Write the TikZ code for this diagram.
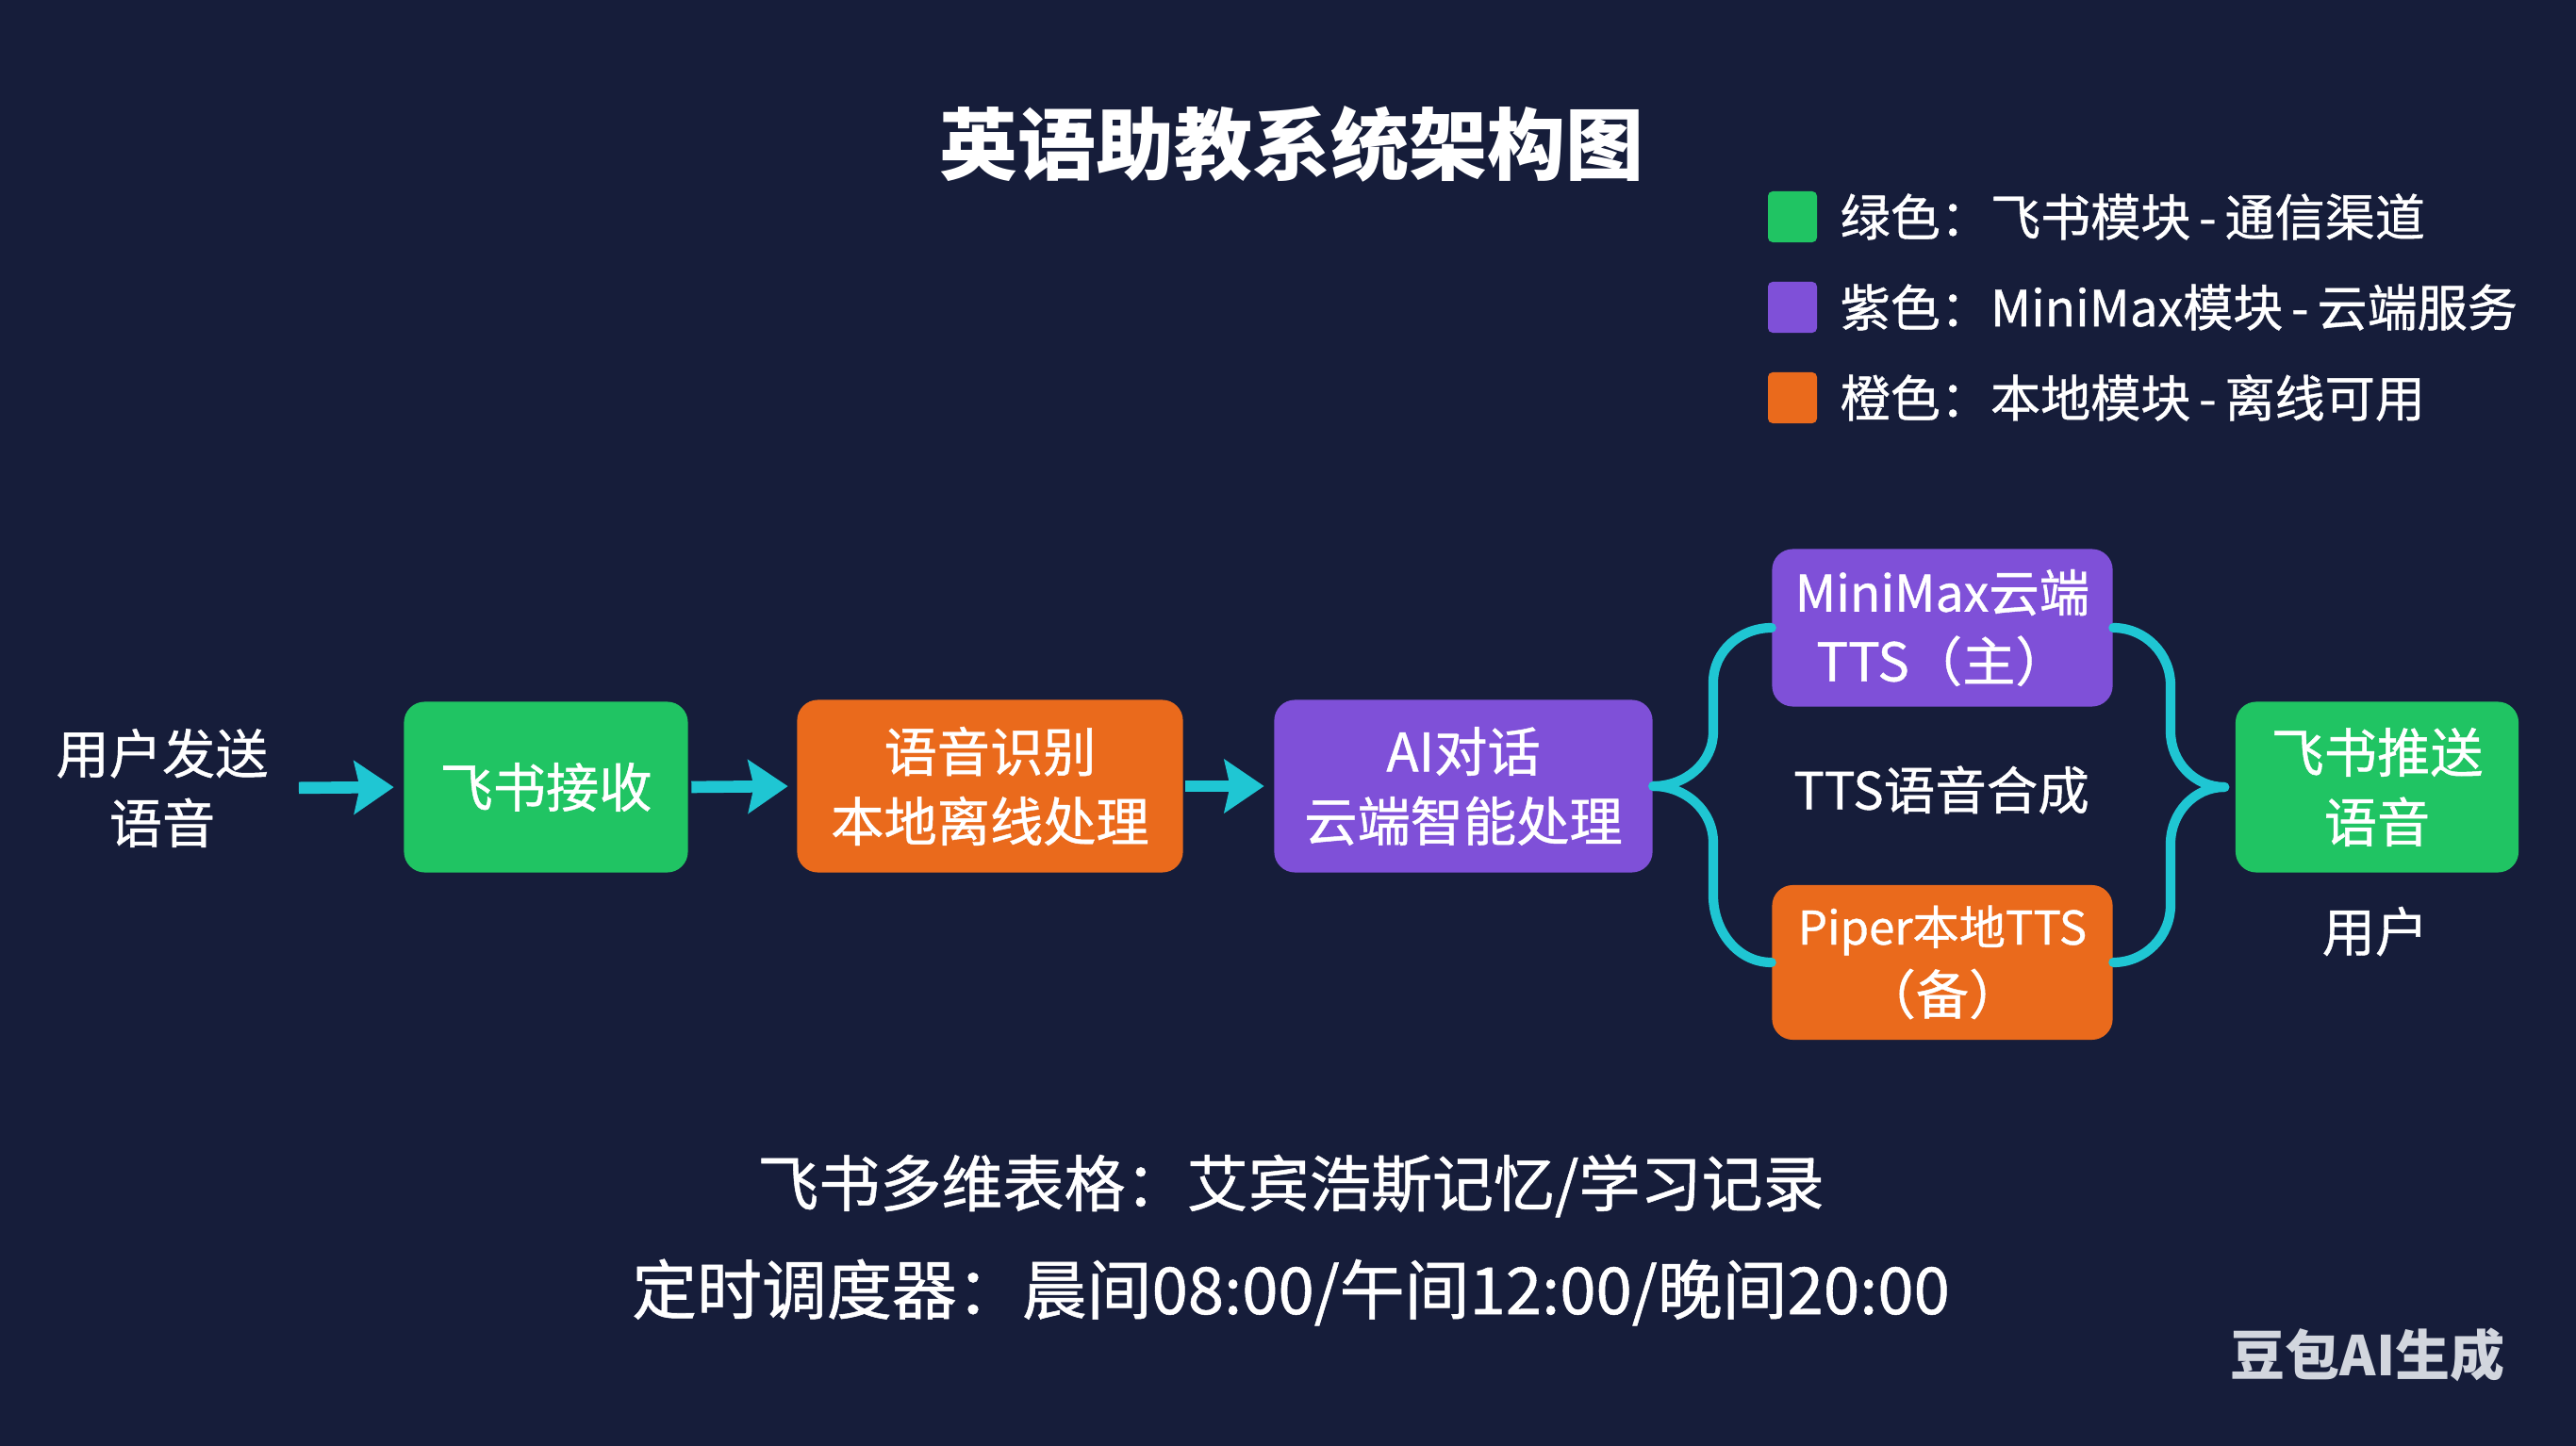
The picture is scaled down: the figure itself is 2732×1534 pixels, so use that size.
\documentclass[tikz,border=0pt]{standalone}
\usepackage{fontspec}
\setmainfont{Noto Sans CJK SC}
\newfontfamily\medfont{Noto Sans CJK SC}[FakeBold=0.8]
\usetikzlibrary{arrows.meta}
\definecolor{bg}{HTML}{161D3A}
\definecolor{fsgreen}{HTML}{20C463}
\definecolor{mmpurple}{HTML}{7F50D8}
\definecolor{locorange}{HTML}{EA6A1C}
\definecolor{flowcyan}{HTML}{1FC6D3}
\definecolor{wm}{HTML}{D2D6DE}
\begin{document}
\begin{tikzpicture}[x=0.01cm,y=-0.01cm,
 box/.style={rounded corners=0.22cm, text=white, align=center, inner sep=0pt, font=\medfont\fontsize{16}{21}\selectfont},
 plaintext/.style={text=white, align=center, font=\medfont\fontsize{16}{21}\selectfont},
 flow/.style={draw=flowcyan, line width=3.6pt, -{Stealth[length=0.42cm,width=0.56cm,inset=0.06cm]}},
 brace/.style={draw=flowcyan, line width=2.9pt, line cap=round},
 legsq/.style={rounded corners=0.05cm, minimum width=0.52cm, minimum height=0.54cm, inner sep=0pt},
 legtext/.style={text=white, anchor=west, inner sep=0pt, font=\medfont\fontsize{15.1}{18}\selectfont},
 bottomtext/.style={text=white, font=\medfont\fontsize{18.5}{22}\selectfont}]
\fill[bg] (0,0) rectangle (2732,1534);
\useasboundingbox (0,0) rectangle (2732,1534);

\node[font=\bfseries\fontsize{23.6}{28}\selectfont, text=white] (title) at (1370,153) {英语助教系统架构图};

\node[legsq, fill=fsgreen] (lg1) at (1901,230) {};
\node[legtext] (lt1) at (1951,230) {绿色：飞书模块\,-\,通信渠道};
\node[legsq, fill=mmpurple] (lg2) at (1901,326) {};
\node[legtext] (lt2) at (1951,326) {紫色：MiniMax模块\,-\,云端服务};
\node[legsq, fill=locorange] (lg3) at (1901,422) {};
\node[legtext] (lt3) at (1951,422) {橙色：本地模块\,-\,离线可用};

\node[box, fill=fsgreen, minimum width=3.01cm, minimum height=1.81cm] (recv) at (579,835) {飞书接收};
\node[box, fill=locorange, minimum width=4.09cm, minimum height=1.83cm] (asr) at (1050,834) {语音识别\\本地离线处理};
\node[box, fill=mmpurple, minimum width=4.01cm, minimum height=1.83cm] (ai) at (1552,834) {AI对话\\云端智能处理};
\node[box, fill=mmpurple, minimum width=3.61cm, minimum height=1.67cm] (mm) at (2060,666) {{\fontsize{15.2}{21}\selectfont MiniMax云端}\\TTS（主）};
\node[box, fill=locorange, minimum width=3.61cm, minimum height=1.64cm] (piper) at (2060,1021) {{\fontsize{14}{21}\selectfont Piper本地TTS}\\（备）};
\node[box, fill=fsgreen, minimum width=3.00cm, minimum height=1.81cm] (push) at (2521,835) {飞书推送\\语音};

\node[plaintext] (user) at (172,836) {用户发送\\语音};
\node[plaintext, font=\medfont\fontsize{15.5}{21}\selectfont] (tts) at (2059,838) {TTS语音合成};
\node[plaintext] (recvuser) at (2519,988) {用户};

\draw[flow, shorten <=0.2cm, shorten >=0.1cm] (user.east) -- (recv.west);
\draw[flow, shorten <=0.03cm, shorten >=0.09cm] (recv.east) -- (asr.west);
\draw[flow, shorten <=0.02cm, shorten >=0.1cm] (asr.east) -- (ai.west);

\draw[brace] (ai.east) to[out=0,in=-90] (1817,776) -- (1817,724) to[out=90,in=180] (mm.west);
\draw[brace] (ai.east) to[out=0,in=90] (1817,894) -- (1817,950) to[out=-90,in=180] (piper.west);
\draw[brace] (mm.east) to[out=0,in=90] (2302,727) -- (2302,776) to[out=-90,in=180] ([xshift=-0.11cm]push.west);
\draw[brace] (piper.east) to[out=0,in=-90] (2302,960) -- (2302,895) to[out=90,in=180] ([xshift=-0.11cm]push.west);

\node[bottomtext] (tbl) at (1369,1258) {飞书多维表格：艾宾浩斯记忆/学习记录};
\node[bottomtext, font=\medfont\fontsize{19.6}{22}\selectfont] (sched) at (1369,1371) {定时调度器：晨间08:00/午间12:00/晚间20:00};

\node[font=\bfseries\fontsize{16.5}{20}\selectfont, text=wm] (wmark) at (2511,1437) {豆包AI生成};
\end{tikzpicture}
\end{document}
